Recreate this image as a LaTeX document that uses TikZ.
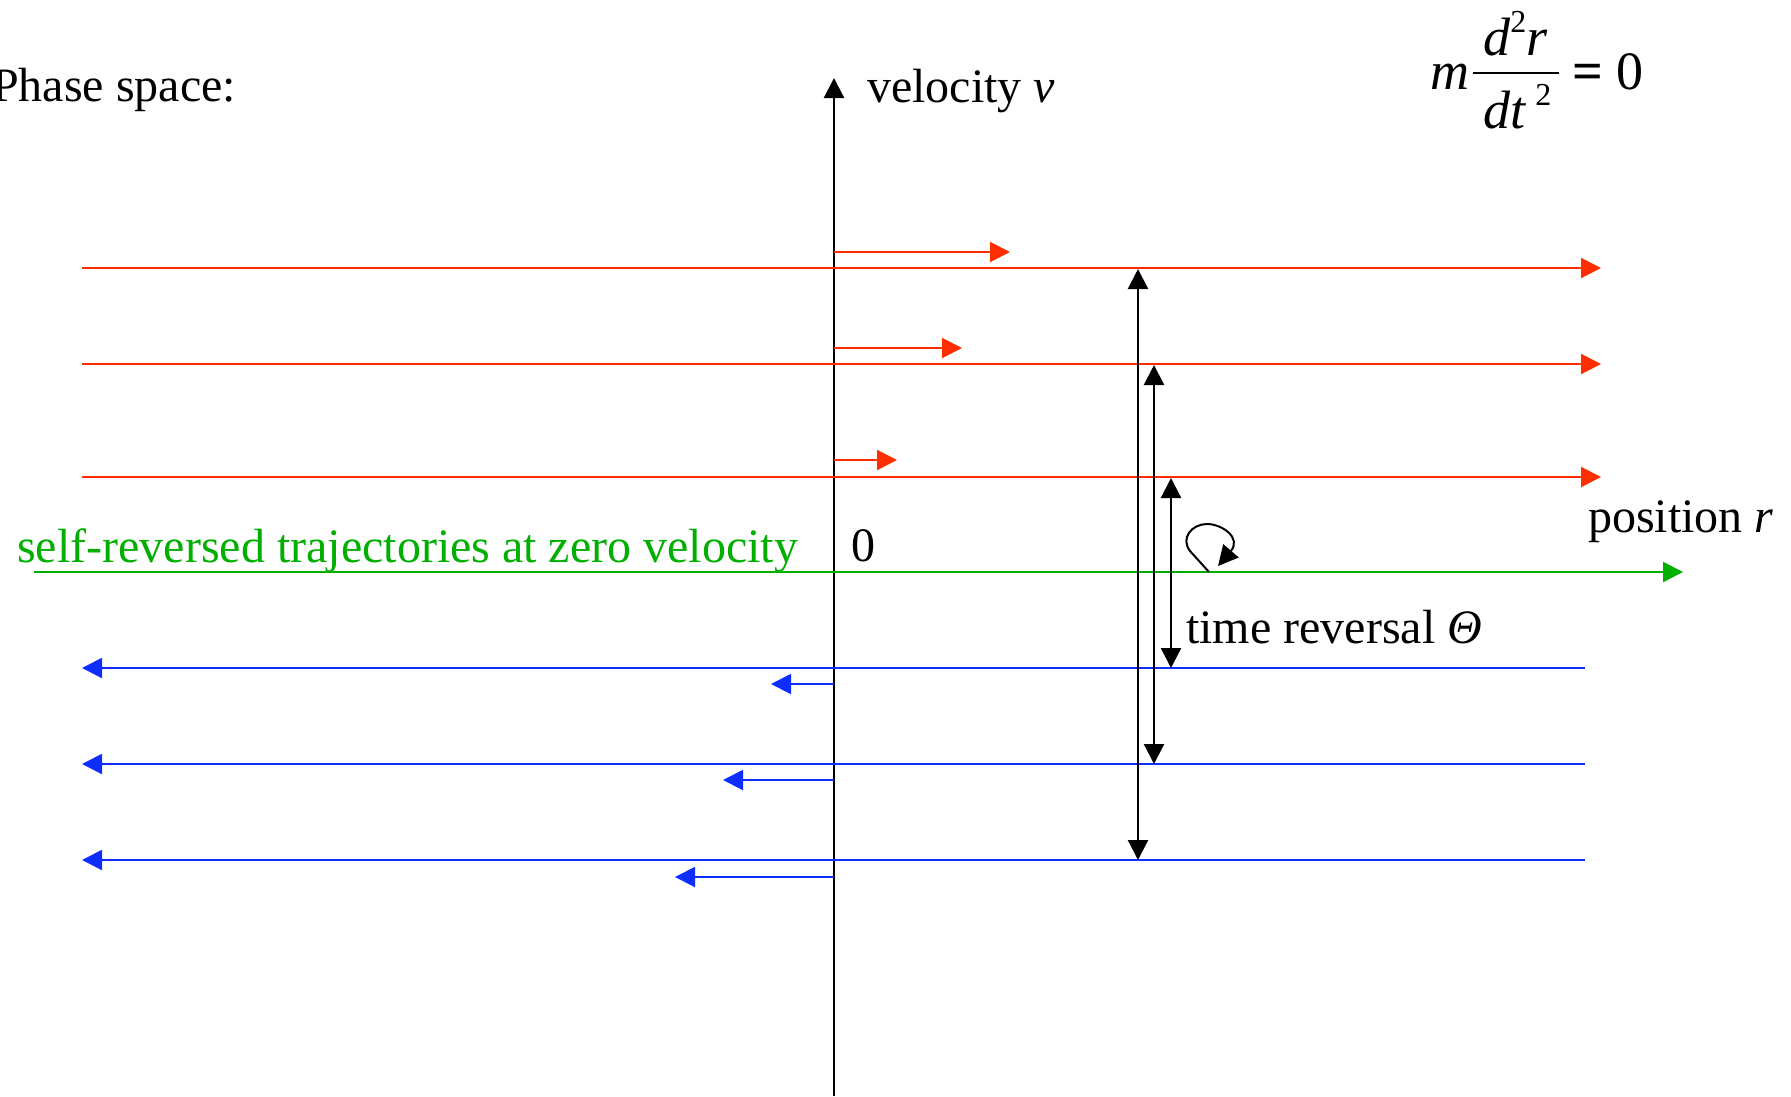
\documentclass[tikz,border=0pt]{standalone}
\usepackage{fontspec}
\setmainfont{Liberation Serif}
\usetikzlibrary{arrows.meta}
\definecolor{myred}{RGB}{255,45,0}
\definecolor{myblue}{RGB}{15,45,255}
\definecolor{mygreen}{RGB}{0,175,0}
\tikzset{
  tip/.tip={Triangle[length=20pt,width=20pt]},
  redarrow/.style={draw=myred, line width=2pt, -tip},
  bluearrow/.style={draw=myblue, line width=2pt, -tip},
  greenarrow/.style={draw=mygreen, line width=2pt, -tip},
  axisarrow/.style={draw=black, line width=2.2pt, -tip},
  revarrow/.style={draw=black, line width=2.2pt, tip-tip},
  looparrow/.style={draw=black, line width=2pt, -tip},
  lbl/.style={anchor=base west, inner sep=0pt, font=\fontsize{48}{58}\selectfont},
  eqlbl/.style={anchor=base west, inner sep=0pt, font=\fontsize{54}{64}\selectfont},
}
\begin{document}
\begin{tikzpicture}[x=1pt,y=-1pt]
\useasboundingbox (0,0) rectangle (1791,1096);
% axis
\coordinate (axb) at (834,1096);
\coordinate (axt) at (834,78);
\draw[axisarrow] (axb) -- (axt);
% red long lines
\coordinate (r1a) at (82,268);  \coordinate (r1b) at (1601,268);
\coordinate (r2a) at (82,364);  \coordinate (r2b) at (1601,364);
\coordinate (r3a) at (82,477);  \coordinate (r3b) at (1601,477);
\draw[redarrow] (r1a) -- (r1b);
\draw[redarrow] (r2a) -- (r2b);
\draw[redarrow] (r3a) -- (r3b);
% red short arrows
\coordinate (rs1a) at (834,252); \coordinate (rs1b) at (1010,252);
\coordinate (rs2a) at (834,348); \coordinate (rs2b) at (962,348);
\coordinate (rs3a) at (834,460); \coordinate (rs3b) at (897,460);
\draw[redarrow] (rs1a) -- (rs1b);
\draw[redarrow] (rs2a) -- (rs2b);
\draw[redarrow] (rs3a) -- (rs3b);
% green line
\coordinate (ga) at (34,572); \coordinate (gb) at (1683,572);
\draw[greenarrow] (ga) -- (gb);
% blue long lines
\coordinate (b1a) at (1585,668); \coordinate (b1b) at (82,668);
\coordinate (b2a) at (1585,764); \coordinate (b2b) at (82,764);
\coordinate (b3a) at (1585,860); \coordinate (b3b) at (82,860);
\draw[bluearrow] (b1a) -- (b1b);
\draw[bluearrow] (b2a) -- (b2b);
\draw[bluearrow] (b3a) -- (b3b);
% blue short arrows
\coordinate (bs1a) at (834,684); \coordinate (bs1b) at (771,684);
\coordinate (bs2a) at (834,780); \coordinate (bs2b) at (723,780);
\coordinate (bs3a) at (834,877); \coordinate (bs3b) at (675,877);
\draw[bluearrow] (bs1a) -- (bs1b);
\draw[bluearrow] (bs2a) -- (bs2b);
\draw[bluearrow] (bs3a) -- (bs3b);
% time reversal arrows
\coordinate (t1a) at (1138,269); \coordinate (t1b) at (1138,860);
\coordinate (t2a) at (1154,365); \coordinate (t2b) at (1154,764);
\coordinate (t3a) at (1171,478); \coordinate (t3b) at (1171,668);
\draw[revarrow] (t1a) -- (t1b);
\draw[revarrow] (t2a) -- (t2b);
\draw[revarrow] (t3a) -- (t3b);
% self-map loop
\coordinate (la) at (1209,572);
\coordinate (lb) at (1218,566);
\draw[looparrow] (la) -- (1190,551) .. controls (1180,538) and (1192,524) .. (1207,524) .. controls (1222,524) and (1242,538) .. (lb);
% labels
\node[lbl] (phase) at (-8,101) {Phase space:};
\node[lbl] (vel) at (867,102) {velocity \textit{v}};
\node[lbl] (zero) at (851,561) {0};
\node[lbl, text=mygreen] (self) at (17,562) {self-reversed trajectories at zero velocity};
\node[lbl] (pos) at (1588,532) {position \textit{r}};
\node[lbl] (trev) at (1186,643) {time reversal \textit{Θ}};
% equation
\node[eqlbl] (eqm) at (1430,89) {\textit{m}};
\node[eqlbl] (eqnum) at (1483,55) {\textit{d}\raisebox{0.42em}{\fontsize{32}{32}\selectfont 2}\textit{r}};
\coordinate (bara) at (1473,73); \coordinate (barb) at (1559,73);
\draw[line width=2pt] (bara) -- (barb);
\node[eqlbl] (eqden) at (1483,128) {\textit{dt}\,\raisebox{0.42em}{\fontsize{32}{32}\selectfont 2}};
\node[eqlbl] (eqrhs) at (1572,89) {\textbf{=} 0};
\end{tikzpicture}
\end{document}
